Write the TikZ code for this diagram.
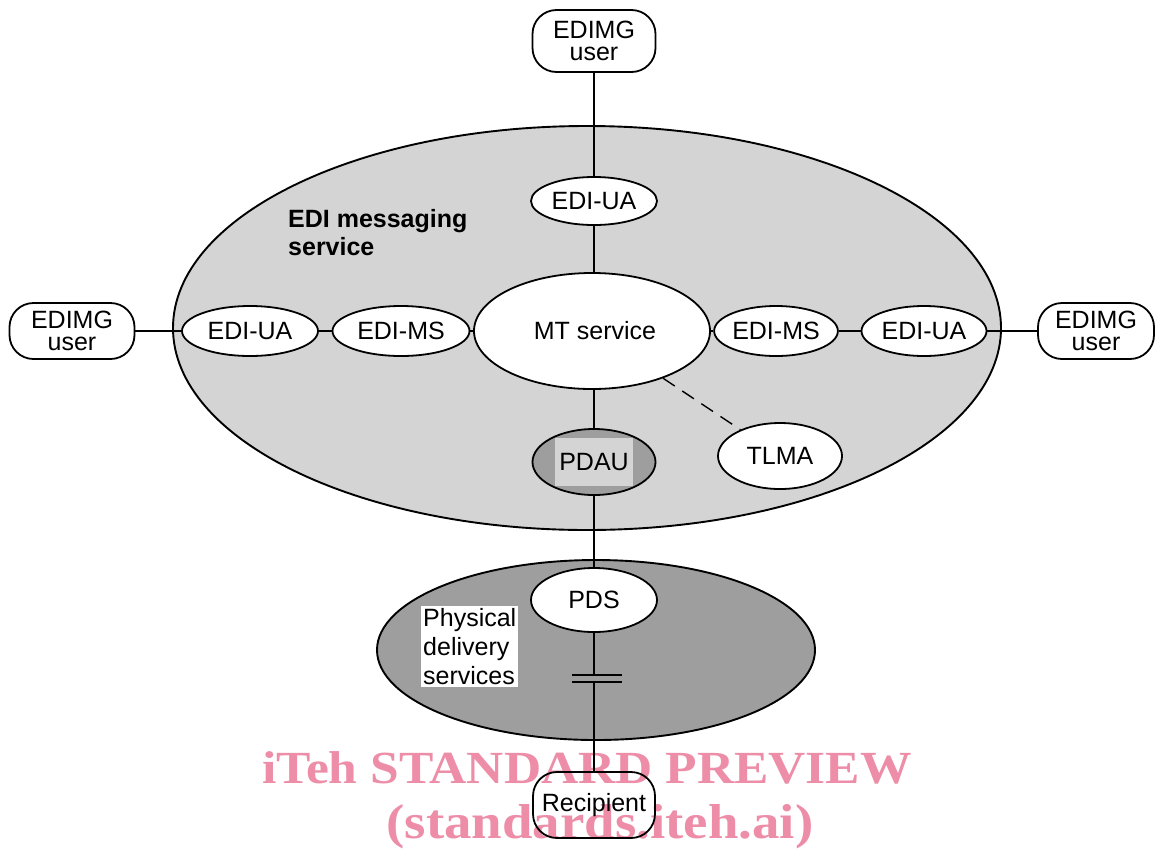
\documentclass[tikz,border=0pt]{standalone}
\usepackage{fontspec}
\setmainfont{Liberation Sans}
\newfontfamily\wmfont{Liberation Serif}[FakeStretch=1.12]
\usetikzlibrary{shapes.geometric}
\definecolor{lightdot}{gray}{0.83}
\definecolor{darkdot}{gray}{0.62}
\definecolor{wmpink}{RGB}{237,141,168}
\begin{document}
\begin{tikzpicture}[x=1pt,y=-1pt,
  lbl/.style={font=\fontsize{25}{21.5}\selectfont},
  oval/.style={ellipse, draw, line width=1.8pt, fill=white, inner sep=0pt, lbl},
  userbox/.style={draw, line width=1.8pt, fill=white, rounded corners=24pt, inner sep=0pt, align=center, lbl},
  region/.style={ellipse, draw, line width=1.9pt, inner sep=0pt},
  link/.style={line width=1.4pt},
  wm/.style={font=\wmfont\bfseries\fontsize{46}{52}\selectfont, text=wmpink, anchor=base, inner sep=0pt},
]
\useasboundingbox (0,0) rectangle (1158,852);
\fill[white] (0,0) rectangle (1158,852);

% watermark (underneath the drawing)
\node[wm] (wm1) at (587,783) {iTeh STANDARD PREVIEW};
\node[wm, font=\wmfont\bfseries\fontsize{49}{52}\selectfont] (wm2) at (600,838) {(standards.iteh.ai)};

% regions
\node[region, fill=lightdot, minimum width=828pt, minimum height=404pt] (ems) at (587,328) {};
\node[region, fill=darkdot, minimum width=438pt, minimum height=180pt] (pdsreg) at (596,650) {};

% region labels
\node[anchor=north west, inner sep=0pt, align=left, font=\bfseries\fontsize{25}{28}\selectfont] (emslbl) at (288,209) {EDI messaging\\service};
\node[anchor=north west, inner sep=2pt, fill=white, align=left, font=\fontsize{25}{29}\selectfont] (pdslbl) at (421,606) {Physical\\delivery\\services};

% users
\node[userbox, minimum width=123pt, minimum height=62pt] (utop) at (594,41) {EDIMG\\user};
\node[userbox, minimum width=125pt, minimum height=56pt] (uleft) at (72,331) {EDIMG\\user};
\node[userbox, minimum width=116pt, minimum height=56pt] (uright) at (1096,331) {EDIMG\\user};
\node[userbox, fill=none, minimum width=122pt, minimum height=66pt] (recip) at (594,805) {Recipient};

% service elements
\node[oval, minimum width=126pt, minimum height=48pt] (uatop) at (594,201) {EDI-UA};
\node[oval, minimum width=136pt, minimum height=50pt] (ualeft) at (250,331) {EDI-UA};
\node[oval, minimum width=137pt, minimum height=50pt] (msleft) at (401,331) {EDI-MS};
\node[oval, minimum width=236pt, minimum height=116pt] (mt) at (592,331) {\hspace*{6pt}MT service};
\node[oval, minimum width=122pt, minimum height=50pt] (msright) at (776,331) {EDI-MS};
\node[oval, minimum width=125pt, minimum height=50pt] (uaright) at (924,331) {EDI-UA};
\node[oval, fill=darkdot, minimum width=123pt, minimum height=66pt] (pdau) at (594,462) {};
\node[fill=lightdot, inner sep=0pt, minimum width=78pt, minimum height=48pt, lbl] (pdaulbl) at (pdau) {PDAU};
\node[oval, minimum width=124pt, minimum height=66pt] (tlma) at (780,456) {TLMA};
\node[oval, minimum width=126pt, minimum height=64pt] (pds) at (594,600) {PDS};

% break symbol
\coordinate (b1) at (594,675);
\coordinate (b2) at (594,682);
\draw[link] (572,675) -- (622,675);
\draw[link] (572,682) -- (622,682);

% connectors
\draw[link] (utop) -- (uatop);
\draw[link] (uatop.south) -- (uatop.south |- mt.north);
\draw[link] (uleft) -- (ualeft);
\draw[link] (ualeft) -- (msleft);
\draw[link] (msleft) -- (mt);
\draw[link] (mt) -- (msright);
\draw[link] (msright) -- (uaright);
\draw[link] (uaright) -- (uright);
\draw[link] (pdau.north |- mt.south) -- (pdau.north);
\draw[link] (pdau) -- (pds);
\draw[link] (pds) -- (b1);
\draw[link] (b2) -- (recip.north);
\draw[link, dash pattern=on 14pt off 9pt] (mt) -- (tlma);
\end{tikzpicture}
\end{document}
